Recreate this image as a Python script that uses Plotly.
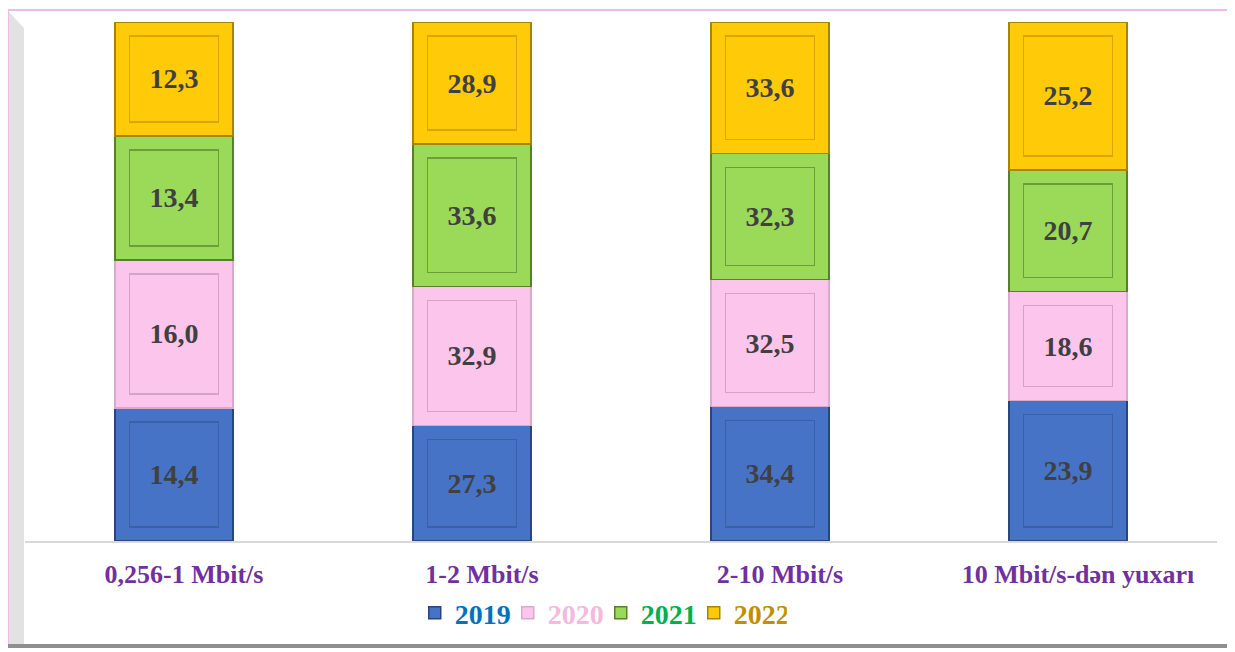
import plotly.graph_objects as go

categories = ["0,256-1 Mbit/s", "1-2 Mbit/s", "2-10 Mbit/s", "10 Mbit/s-dən yuxarı"]
years = ["2019", "2020", "2021", "2022"]
v2019 = [14.4, 27.3, 34.4, 23.9]
v2020 = [16.0, 32.9, 32.5, 18.6]
v2021 = [13.4, 33.6, 32.3, 20.7]
v2022 = [12.3, 28.9, 33.6, 25.2]
series = [v2019, v2020, v2021, v2022]

fills = ["#4673C6", "#FCC6EC", "#9BDA58", "#FFCA08"]
edges = ["#27467F", "#D9A9CB", "#587F2A", "#A88300"]
inner_lines = ["#3A61A8", "#D4A3C6", "#6E9E3C", "#D9A600"]
name_colors = ["#0070C0", "#F5B8DE", "#00B050", "#BF9000"]

# page body has an 8px margin; figure sits at (8, 8) in the screenshot
OFF = 8
FIG_W, FIG_H = 1235 - OFF, 652 - OFF
W0, W, YT, YB = 25, 1192, 22, 541   # plot area in screenshot pixels
H = YB - YT


def px(x):
    return (x - W0) / W


def py(y):
    return (YB - y) / H


# 100% stacking computed from the values
totals = [sum(col) for col in zip(*series)]
pcts = [[v / t * 100 for v, t in zip(s, totals)] for s in series]
INSET = 14 / H * 100  # bevel inset in axis units

fig = go.Figure()
for yr, vals, pc, fc, ec, nc in zip(years, series, pcts, fills, edges, name_colors):
    fig.add_trace(go.Bar(
        x=categories, y=pc,
        name=f"<b><span style='color:{nc}'>{yr}</span></b>",
        marker=dict(color=fc, line=dict(color=ec, width=1.5)),
        text=[f"<b>{v:.1f}</b>".replace(".", ",") for v in vals],
        textposition="inside", insidetextanchor="middle", textangle=0,
        textfont=dict(family="Liberation Serif", size=28, color="#404040"),
        hoverinfo="skip",
    ))

# inner bevel outlines
cum = [0.0] * len(categories)
for pc, il in zip(pcts, inner_lines):
    fig.add_trace(go.Bar(
        x=categories, y=[p - 2 * INSET for p in pc],
        base=[c + INSET for c in cum],
        width=0.30,
        marker=dict(color="rgba(0,0,0,0)", line=dict(color=il, width=1.5)),
        showlegend=False, hoverinfo="skip",
    ))
    cum = [c + p for c, p in zip(cum, pc)]

shapes = [
    dict(type="path", xref="paper", yref="paper",
         path=f"M {px(9)} {py(12)} L {px(24)} {py(28)} L {px(24)} {py(644)} L {px(9)} {py(644)} Z",
         fillcolor="#E2E2E2", line=dict(width=0), layer="below"),
    dict(type="line", xref="paper", yref="paper", x0=px(8), x1=px(1233), y0=py(10), y1=py(10),
         line=dict(color="#F2B8EC", width=2)),
    dict(type="line", xref="paper", yref="paper", x0=px(8), x1=px(8), y0=py(10), y1=py(648),
         line=dict(color="#F2B8EC", width=2)),
    dict(type="line", xref="paper", yref="paper", x0=px(1230.5), x1=px(1230.5), y0=py(13), y1=py(648),
         line=dict(color="#8F8F8F", width=4)),
    dict(type="line", xref="paper", yref="paper", x0=px(8), x1=px(1232.5), y0=py(646), y1=py(646),
         line=dict(color="#8F8F8F", width=4)),
]

fig.update_layout(
    width=FIG_W, height=FIG_H,
    margin=dict(l=W0 - OFF, r=FIG_W - (W0 - OFF) - W, t=YT - OFF, b=FIG_H - (YB - OFF)),
    barmode="stack", bargap=0.605,
    plot_bgcolor="white", paper_bgcolor="white",
    showlegend=True,
    legend=dict(orientation="h", x=0.483, xanchor="center", y=py(613), yanchor="middle",
                font=dict(family="Liberation Serif", size=28), traceorder="normal",
                entrywidth=48, entrywidthmode="pixels",
                bgcolor="rgba(0,0,0,0)"),
    shapes=shapes,
)
fig.update_xaxes(
    tickmode="array", tickvals=categories,
    ticktext=[f"<b>{c}</b>" for c in categories],
    tickfont=dict(family="Liberation Serif", size=26, color="#7030A0"),
    showline=True, linecolor="#D9D9D9", linewidth=2,
    ticks="", ticklabelstandoff=9, ticklabelshift=10, showgrid=False,
)
fig.update_yaxes(range=[0, 100], visible=False, showgrid=False)

fig.write_html("out.html")
